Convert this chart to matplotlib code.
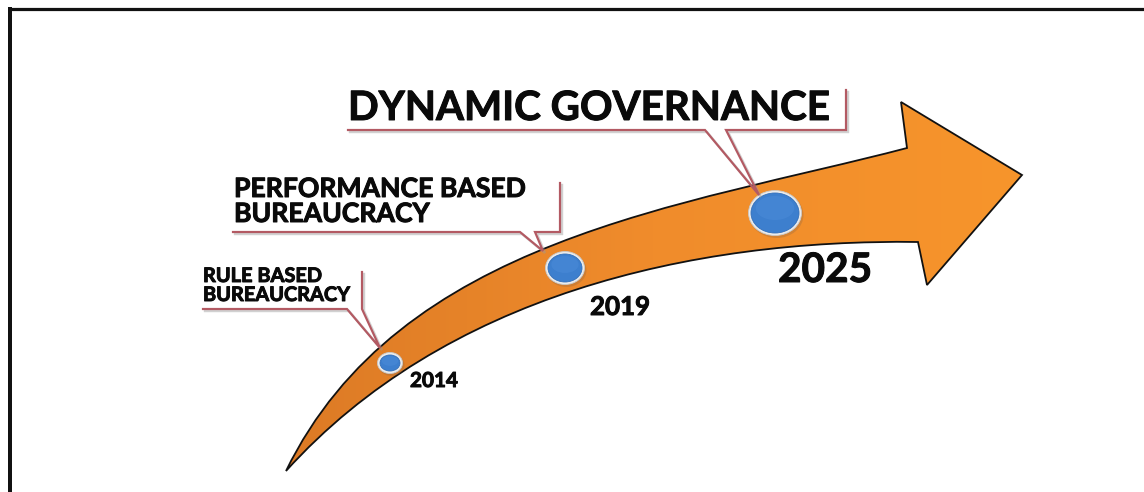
import numpy as np
import matplotlib
matplotlib.use("Agg")
import matplotlib.pyplot as plt
from matplotlib.path import Path
from matplotlib.patches import PathPatch, Ellipse
from matplotlib.colors import LinearSegmentedColormap
import matplotlib.patheffects as pe

# ---------------- data ----------------
years = ["2014", "2019", "2025"]
stage_lines = [["RULE BASED", "BUREAUCRACY"],
               ["PERFORMANCE BASED", "BUREAUCRACY"],
               ["DYNAMIC GOVERNANCE"]]

# milestone circles (pixel space of the 1144x492 canvas, y downwards)
milestone_x = [390, 565, 775]
milestone_y = [363, 268, 213]
milestone_rx = [10, 17, 24]
milestone_ry = [8, 14, 20]

# year labels: left x, baseline y, target width
year_x = [410, 590, 778]
year_base = [387, 315, 282]
year_w = [48, 60, 94]

# stage label blocks: left x, baselines, target width of first line
stage_x = [203, 234, 348]
stage_base = [[282, 301], [197, 222], [120]]
stage_w = [119, 292, 482]

# callout polylines
callouts = [
    [(203, 309), (347, 309), (380, 348), (362, 309), (362, 272)],
    [(233, 232), (520, 232), (543, 251), (535, 232), (560, 232), (560, 183)],
    [(348, 130), (705, 130), (759, 195), (726, 130), (846, 130), (846, 90)],
]

# arrow outline (measured points along the edges)
upper_edge = [(286, 471), (330, 396), (380, 348), (440, 303), (490, 271), (545, 249),
              (600, 228), (680, 204), (767, 183), (850, 161), (907, 148)]
head = [(901, 102), (1022, 175), (927, 285)]
lower_edge = [(918, 242), (840, 244), (767, 249), (680, 263), (620, 278), (565, 291),
              (500, 318), (440, 350), (380, 388), (330, 426), (286, 471)]

W, H = 1144, 492


def bezier_fit(pts):
    p = np.array(pts, float)
    d = np.r_[0, np.cumsum(np.hypot(*np.diff(p, axis=0).T))]
    t = d / d[-1]
    b0 = (1 - t) ** 3
    b1 = 3 * (1 - t) ** 2 * t
    b2 = 3 * (1 - t) * t ** 2
    b3 = t ** 3
    A = np.c_[b1, b2]
    rhs = p - np.outer(b0, p[0]) - np.outer(b3, p[-1])
    sol, *_ = np.linalg.lstsq(A, rhs, rcond=None)
    return [tuple(p[0]), tuple(sol[0]), tuple(sol[1]), tuple(p[-1])]


fig = plt.figure(figsize=(W / 100, H / 100), dpi=100)
ax = fig.add_axes([0, 0, 1, 1])
ax.set_xlim(0, W)
ax.set_ylim(H, 0)
ax.axis("off")

FONT = ["Lato", "DejaVu Sans"]
PX = 72 / 100  # points per pixel

# frame (top and left)
ax.plot([8, W], [8.5, 8.5], color="#111111", lw=3.2 * PX, solid_capstyle="butt", zorder=1)
ax.plot([10, 10], [7, H], color="#111111", lw=4 * PX, solid_capstyle="butt", zorder=1)

# arrow path
bu = bezier_fit(upper_edge)
bl = bezier_fit(lower_edge)
verts = [bu[0], bu[1], bu[2], bu[3]] + head + [bl[0], bl[1], bl[2], bl[3]]
codes = ([Path.MOVETO, Path.CURVE4, Path.CURVE4, Path.CURVE4]
         + [Path.LINETO] * len(head)
         + [Path.LINETO, Path.CURVE4, Path.CURVE4, Path.CURVE4])
verts.append(bu[0])
codes.append(Path.CLOSEPOLY)
arrow_path = Path(verts, codes)

fill = PathPatch(arrow_path, facecolor="#f4902a", edgecolor="none", zorder=2)
ax.add_patch(fill)
grad = np.linspace(0, 1, 256)[None, :]
cmap = LinearSegmentedColormap.from_list("o", ["#dc7a25", "#f08c2c", "#f7952b"])
im = ax.imshow(np.repeat(grad, 2, axis=0), cmap=cmap, extent=[280, 1025, 480, 95],
               aspect="auto", zorder=3)
im.set_clip_path(fill)
ax.add_patch(PathPatch(arrow_path, facecolor="none", edgecolor="#111111",
                       lw=1.8 * PX, zorder=4, joinstyle="miter"))

# milestones
for x, y, rx, ry in zip(milestone_x, milestone_y, milestone_rx, milestone_ry):
    ax.add_patch(Ellipse((x + 1.5, y + 2), 2 * rx + 6, 2 * ry + 6, facecolor="#9a6a40",
                         alpha=0.35, edgecolor="none", zorder=5))
    ax.add_patch(Ellipse((x, y), 2 * rx + 5, 2 * ry + 5, facecolor="#ececec",
                         edgecolor="#c9c9c9", lw=0.6, zorder=6))
    ax.add_patch(Ellipse((x, y), 2 * rx, 2 * ry, facecolor="#3d7fce",
                         edgecolor="#3470ba", lw=0.6, zorder=7))
    ax.add_patch(Ellipse((x, y - ry * 0.25), 2 * rx * 0.8, 2 * ry * 0.6, facecolor="#4a8ad8",
                         edgecolor="none", alpha=0.6, zorder=8))

# callouts
for pts in callouts:
    xs = [p[0] for p in pts]
    ys = [p[1] for p in pts]
    ax.plot([v + 2 for v in xs], [v + 2 for v in ys], color="#9a9a9a", alpha=0.45,
            lw=2.4 * PX, zorder=8, solid_joinstyle="miter")
    ax.plot(xs, ys, color="#b35a63", lw=2.2 * PX, zorder=9, solid_joinstyle="miter")

fig.canvas.draw()
renderer = fig.canvas.get_renderer()
EFFECT = [pe.withStroke(linewidth=0.7, foreground="#0a0a0a")]


def fitted(x, y, s, width, size_guess=20):
    t = ax.text(x, y, s, fontsize=size_guess, fontweight="bold", family=FONT,
                ha="left", va="baseline", color="#0a0a0a", zorder=10, path_effects=EFFECT)
    w = t.get_window_extent(renderer).width
    t.set_fontsize(size_guess * width / w)
    return t


for x, bases, lines, w in zip(stage_x, stage_base, stage_lines, stage_w):
    t0 = fitted(x, bases[0], lines[0], w)
    fs = t0.get_fontsize()
    for b, s in zip(bases[1:], lines[1:]):
        ax.text(x, b, s, fontsize=fs, fontweight="bold", family=FONT,
                ha="left", va="baseline", color="#0a0a0a", zorder=10, path_effects=EFFECT)

for x, b, s, w in zip(year_x, year_base, years, year_w):
    fitted(x, b, s, w)

fig.savefig("out.png", dpi=100, facecolor="white")
